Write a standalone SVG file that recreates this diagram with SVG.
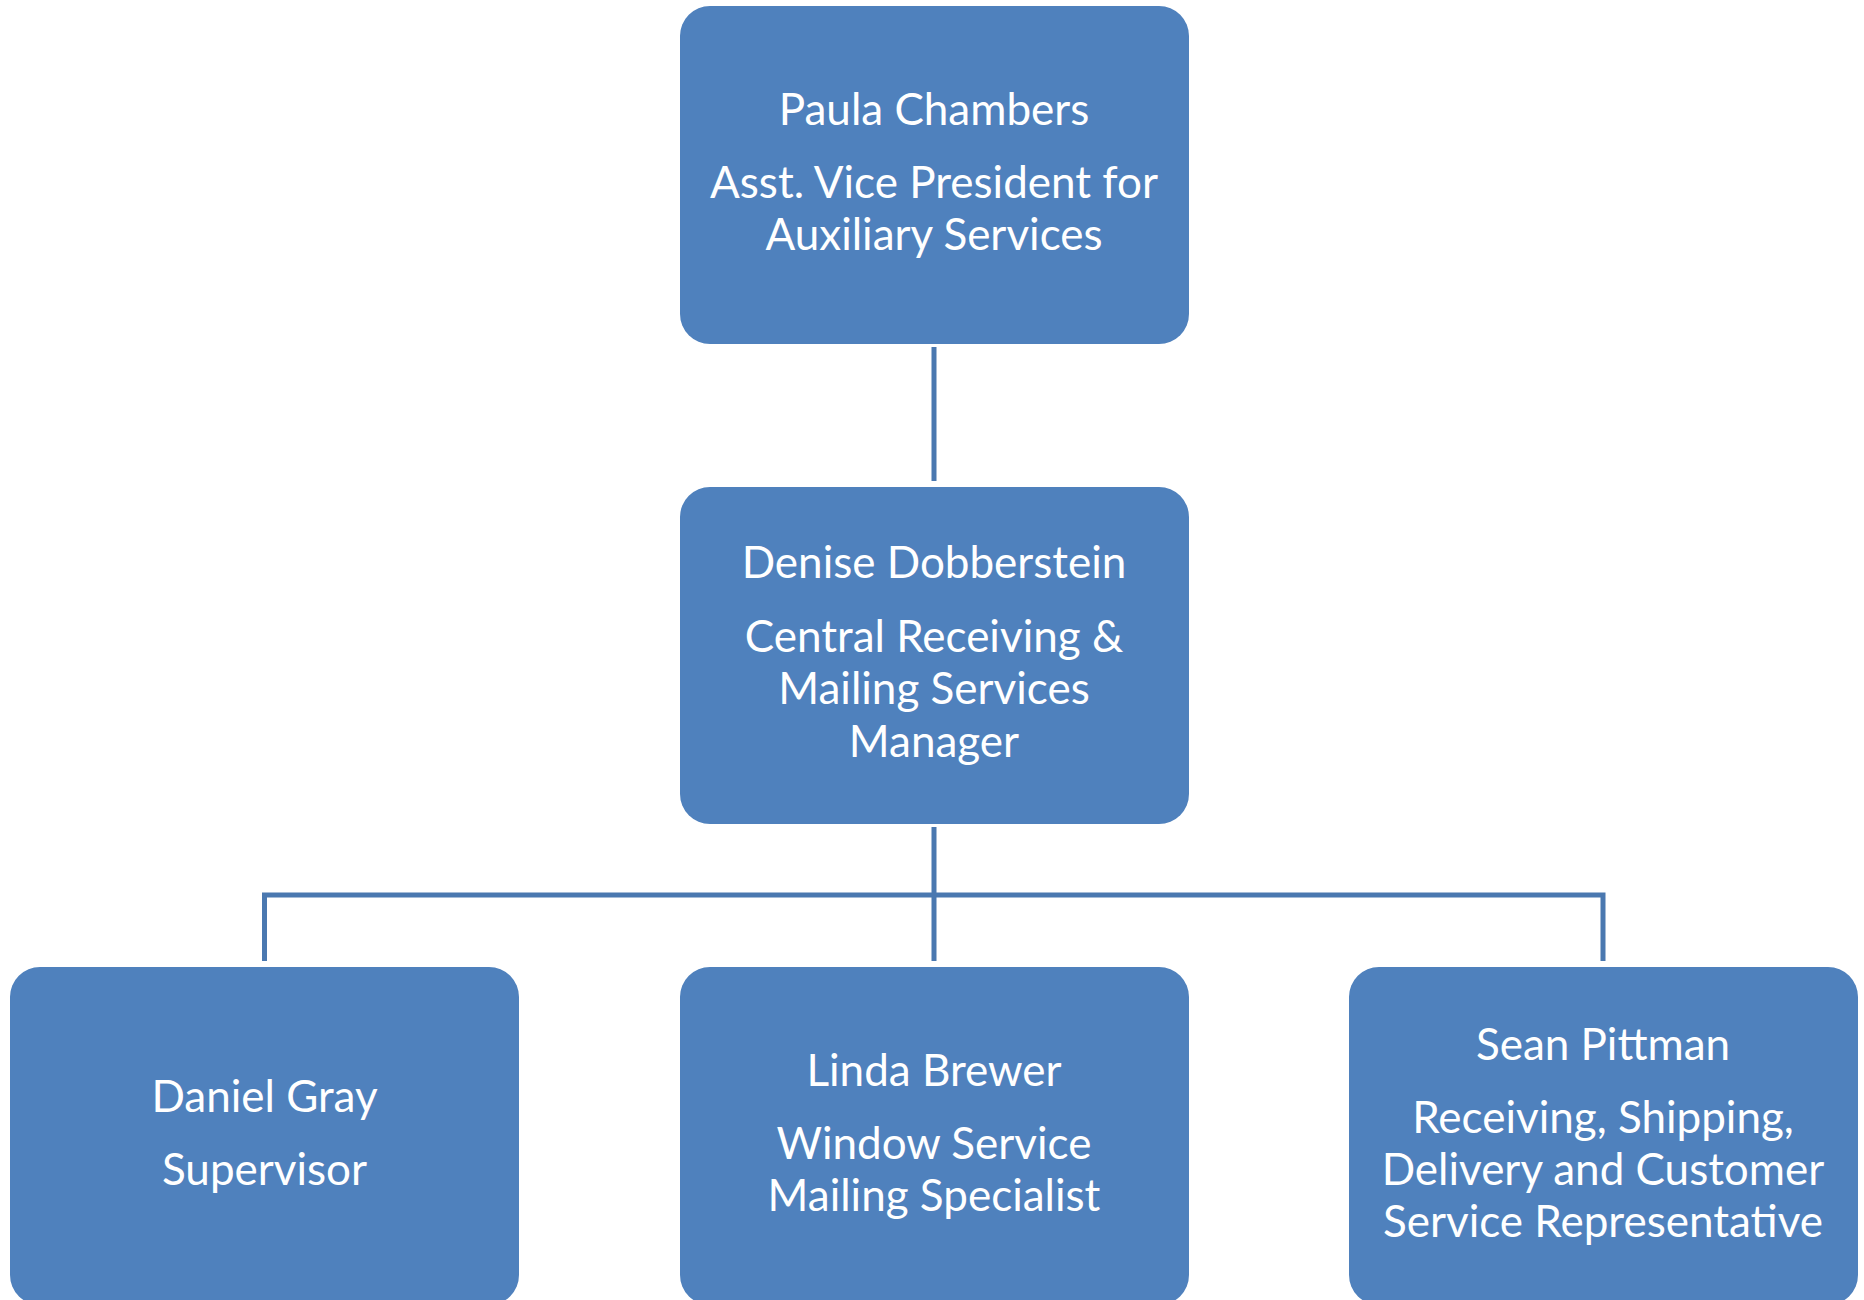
<svg xmlns="http://www.w3.org/2000/svg" width="1864" height="1300" viewBox="0 0 1864 1300">
<style>
.box{fill:#4f81bd;}
.t{font-family:Lato,"Open Sans","Liberation Sans",sans-serif;font-size:44px;fill:#ffffff;text-anchor:middle;}
.c{stroke:#4a78b0;stroke-width:5;fill:none;}
</style>
<rect width="1864" height="1300" fill="#ffffff"/>
<g id="connectors">
<line class="c" x1="934" y1="347" x2="934" y2="481"/>
<line class="c" x1="934" y1="827" x2="934" y2="961"/>
<polyline class="c" points="264.5,961 264.5,895 1603,895 1603,961"/>
</g>
<g id="paula">
<rect class="box" x="680" y="6" width="509" height="338" rx="30"/>
<text class="t" x="934" y="125">Paula Chambers</text>
<text class="t" x="934" y="198">Asst. Vice President for</text>
<text class="t" x="934" y="250">Auxiliary Services</text>
</g>
<g id="denise">
<rect class="box" x="680" y="487" width="509" height="337" rx="30"/>
<text class="t" x="934" y="578">Denise Dobberstein</text>
<text class="t" x="934" y="652">Central Receiving &amp;</text>
<text class="t" x="934" y="704">Mailing Services</text>
<text class="t" x="934" y="757">Manager</text>
</g>
<g id="daniel">
<rect class="box" x="10" y="967" width="509" height="338" rx="30"/>
<text class="t" x="264.5" y="1112">Daniel Gray</text>
<text class="t" x="264.5" y="1185">Supervisor</text>
</g>
<g id="linda">
<rect class="box" x="680" y="967" width="509" height="338" rx="30"/>
<text class="t" x="934" y="1086">Linda Brewer</text>
<text class="t" x="934" y="1159">Window Service</text>
<text class="t" x="934" y="1211">Mailing Specialist</text>
</g>
<g id="sean">
<rect class="box" x="1349" y="967" width="509" height="338" rx="30"/>
<text class="t" x="1603" y="1060">Sean Pittman</text>
<text class="t" x="1603" y="1133">Receiving, Shipping,</text>
<text class="t" x="1603" y="1185">Delivery and Customer</text>
<text class="t" x="1603" y="1237">Service Representative</text>
</g>
</svg>
